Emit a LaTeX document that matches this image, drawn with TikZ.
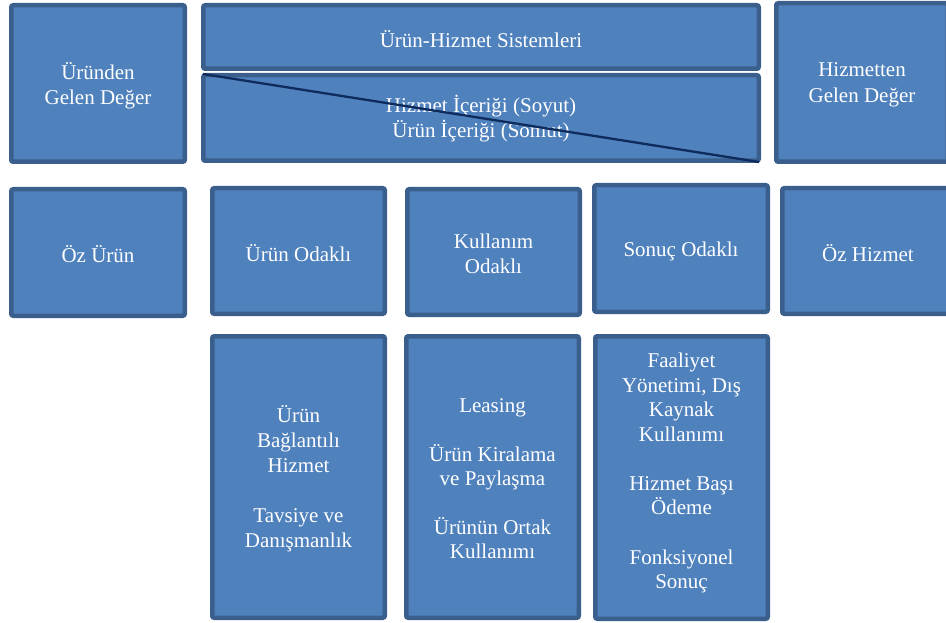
\documentclass[tikz,border=0pt]{standalone}
\usepackage{fontspec}
\setmainfont{Liberation Serif}
\definecolor{boxfill}{HTML}{4F81BD}
\definecolor{boxline}{HTML}{3A5F8D}
\definecolor{diagline}{HTML}{0E2B5C}
\tikzset{
  panel/.style={draw=boxline, fill=boxfill, line width=4.5pt, rounded corners=2pt, inner sep=0pt},
  txt/.style={text=white, align=center, inner sep=0pt, font=\fontsize{21}{25.5}\selectfont},
}
\begin{document}
\begin{tikzpicture}[x=1pt,y=-1pt]
\useasboundingbox (0,0) rectangle (946,623);
\clip (0,0) rectangle (946,623);
% top row
\node[panel, minimum width=173.5pt, minimum height=156.5pt] (A) at (98,83.5) {};
\node[panel, minimum width=555.5pt, minimum height=63.5pt] (B) at (481,37) {};
\node[panel, minimum width=555.5pt, minimum height=85.5pt] (C) at (481,118) {};
\node[panel, minimum width=171.5pt, minimum height=158.5pt] (D) at (862,82.5) {};
% middle row
\node[panel, minimum width=173.5pt, minimum height=126.5pt] (E) at (98,252.5) {};
\node[panel, minimum width=172.5pt, minimum height=125.5pt] (F) at (298.5,251) {};
\node[panel, minimum width=172.5pt, minimum height=125.5pt] (G) at (493.5,252) {};
\node[panel, minimum width=173.5pt, minimum height=126.5pt] (H) at (681,248.5) {};
\node[panel, minimum width=171.5pt, minimum height=125.5pt] (I) at (868,251) {};
% bottom row
\node[panel, minimum width=172.5pt, minimum height=281.5pt] (J) at (298.5,477) {};
\node[panel, minimum width=172.5pt, minimum height=281.5pt] (K) at (492.5,477) {};
\node[panel, minimum width=172.5pt, minimum height=282.5pt] (L) at (681.5,477.5) {};
% texts
\node[txt] (At) at ([yshift=-2.5pt]A.center) {Üründen\\Gelen Değer};
\node[txt] (Bt) at ([yshift=-2pt]B.center) {Ürün-Hizmet Sistemleri};
\node[txt] (Ct) at ([yshift=-0.5pt]C.center) {Hizmet İçeriği (Soyut)\\Ürün İçeriği (Somut)};
\node[txt] (Dt) at ([yshift=-2.5pt]D.center) {Hizmetten\\Gelen Değer};
\node[txt] (Et) at ([yshift=-1.5pt]E.center) {Öz Ürün};
\node[txt] (Ft) at ([yshift=-2pt]F.center) {Ürün Odaklı};
\node[txt] (Gt) at ([yshift=-2pt]G.center) {Kullanım\\Odaklı};
\node[txt] (Ht) at ([yshift=-3pt]H.center) {Sonuç Odaklı};
\node[txt] (It) at ([yshift=-2pt]I.center) {Öz Hizmet};
\node[txt, font=\fontsize{21}{25}\selectfont] (Jt) at ([yshift=-1.5pt]J.center) {Ürün\\Bağlantılı\\Hizmet\\[25pt]Tavsiye ve\\Danışmanlık};
\node[txt, font=\fontsize{21}{24.5}\selectfont] (Kt) at ([yshift=-2pt]K.center) {Leasing\\[24pt]Ürün Kiralama\\ve Paylaşma\\[24pt]Ürünün Ortak\\Kullanımı};
\node[txt, font=\fontsize{21}{24.6}\selectfont] (Lt) at ([yshift=4.5pt]L.center) {Faaliyet\\Yönetimi, Dış\\Kaynak\\Kullanımı\\[24.5pt]Hizmet Başı\\Ödeme\\[24.5pt]Fonksiyonel\\Sonuç};
% diagonal
\draw[diagline, line width=2.3pt] ([xshift=2pt,yshift=-1pt]C.north west) -- ([xshift=-2pt,yshift=1pt]C.south east);
\end{tikzpicture}
\end{document}
